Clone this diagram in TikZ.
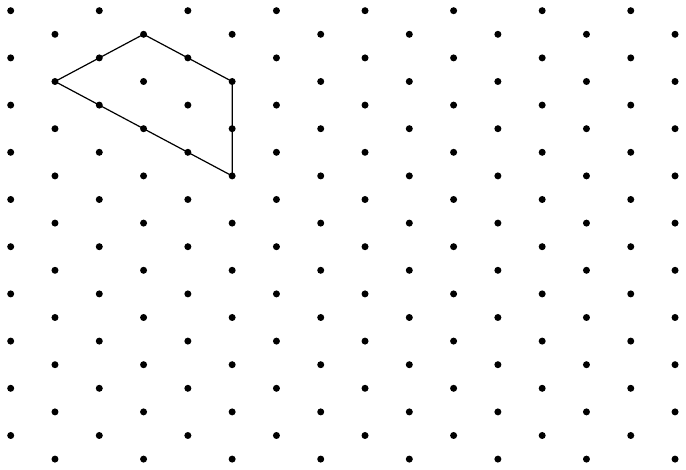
\documentclass[tikz,border=0pt]{standalone}
\usepackage{tikz}

\begin{document}
\begin{tikzpicture}[x=1pt, y=-1pt, dot/.style={shape=circle, fill=black, inner sep=0pt, minimum size=7pt}]
        \def\dx{44.29}
        \def\dy{23.6}
        \useasboundingbox (0,0) rectangle (686,470);
        % Dots
        \foreach \i in {0,...,15} {
            \foreach \j in {0,...,9} {
                \pgfmathtruncatemacro{\k}{2*\j+mod(\i,2)}
                \node[dot] (d-\i-\j) at (10.7+\i*\dx, 10.7+\k*\dy) {};
            }
        }
        % Shape
        \draw[line width=1.2pt] (d-1-1.center) -- (d-3-0.center) -- (d-5-1.center) -- (d-5-3.center) -- cycle;
    \end{tikzpicture}
\end{document}
